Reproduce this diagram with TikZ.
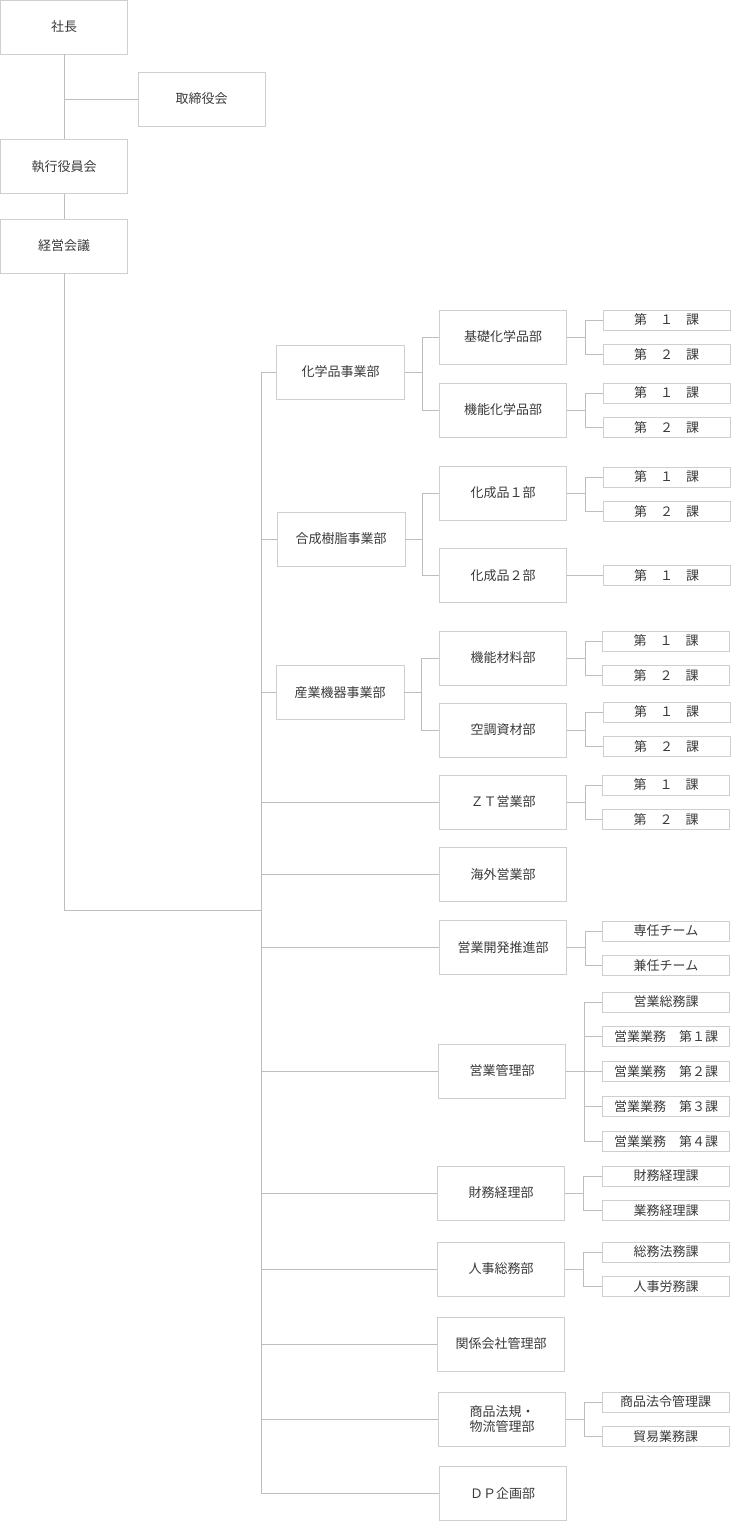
\documentclass[tikz,border=0pt]{standalone}
\usepackage{fontspec}
\setmainfont{Noto Sans CJK JP}
\usetikzlibrary{positioning}
\definecolor{boxgray}{HTML}{CFCFCF}
\definecolor{linegray}{HTML}{BDBDBD}
\definecolor{textgray}{HTML}{3A3A3A}
\begin{document}
\begin{tikzpicture}[x=1pt, y=-1pt, node distance=14pt,
  box/.style={draw=boxgray, line width=0.8pt, text=textgray, minimum width=127pt, minimum height=54pt, inner sep=0pt, align=center, font=\fontsize{13}{15}\selectfont},
  ka/.style={box, minimum height=20pt},
  conn/.style={draw=linegray, line width=0.8pt}]
\useasboundingbox (0,0) rectangle (731,1521);
\node(shacho) [box] at (64,27) {社長};
\node(tori) [box] at (201.5,99) {取締役会};
\node(shikko) [box] at (64,166.5) {執行役員会};
\node(keiei) [box] at (64,246) {経営会議};
\coordinate(sp) at (261,910);
\node(kagaku) [box, minimum width=128pt] at (340.5,372) {化学品事業部};
\node(gosei) [box, minimum width=128pt] at (341,539) {合成樹脂事業部};
\node(sangyo) [box, minimum width=128pt] at (340,692.5) {産業機器事業部};
\node(kiso) [box] at (503,337) {基礎化学品部};
\node(kinou) [box] at (503,410) {機能化学品部};
\node(kasei1) [box] at (503,493) {化成品１部};
\node(kasei2) [box] at (503,575.5) {化成品２部};
\node(zairyo) [box] at (503,658) {機能材料部};
\node(kucho) [box] at (503,730) {空調資材部};
\node(zt) [box] at (503,802) {ＺＴ営業部};
\node(kaigai) [box] at (503,874.5) {海外営業部};
\node(kaihatsu) [box] at (503,947.5) {営業開発推進部};
\node(kanri) [box] at (502,1071) {営業管理部};
\node(zaimu) [box] at (501,1193) {財務経理部};
\node(jinji) [box] at (501,1269) {人事総務部};
\node(kankei) [box] at (501,1344) {関係会社管理部};
\node(shohin) [box] at (502,1419) {商品法規・\\物流管理部};
\node(dp) [box] at (502.5,1493.5) {ＤＰ企画部};
\node(kiso1) [ka] at (666.5,320) {第　１　課};
\node(kiso2) [ka, below=of kiso1] {第　２　課};
\node(kinou1) [ka] at (666.5,393) {第　１　課};
\node(kinou2) [ka, below=of kinou1] {第　２　課};
\node(kaseiA) [ka] at (666.5,477) {第　１　課};
\node(kaseiB) [ka, below=of kaseiA] {第　２　課};
\node(kaseiC) [ka] at (666.5,575.5) {第　１　課};
\node(zairyo1) [ka] at (666,641) {第　１　課};
\node(zairyo2) [ka, below=of zairyo1] {第　２　課};
\node(kucho1) [ka] at (666.5,712) {第　１　課};
\node(kucho2) [ka, below=of kucho1] {第　２　課};
\node(zt1) [ka] at (666,785) {第　１　課};
\node(zt2) [ka, below=of zt1] {第　２　課};
\node(kaihatsu1) [ka] at (666,931) {専任チーム};
\node(kaihatsu2) [ka, below=of kaihatsu1] {兼任チーム};
\node(kanri1) [ka] at (666,1002) {営業総務課};
\node(kanri2) [ka, below=of kanri1] {営業業務　第１課};
\node(kanri3) [ka, below=of kanri2] {営業業務　第２課};
\node(kanri4) [ka, below=of kanri3] {営業業務　第３課};
\node(kanri5) [ka, below=of kanri4] {営業業務　第４課};
\node(zaimu1) [ka] at (666,1176) {財務経理課};
\node(zaimu2) [ka, below=of zaimu1] {業務経理課};
\node(jinji1) [ka] at (666,1252) {総務法務課};
\node(jinji2) [ka, below=of jinji1] {人事労務課};
\node(shohin1) [ka] at (665.5,1402) {商品法令管理課};
\node(shohin2) [ka, below=of shohin1] {貿易業務課};
\draw[conn](shacho) -- (shikko);
\draw[conn](shacho |- tori) -- (tori);
\draw[conn](shikko) -- (keiei);
\draw[conn](keiei) |- (sp);
\draw[conn](sp |- kagaku) -- (sp |- dp);
\draw[conn](sp |- kagaku) -- (kagaku);
\draw[conn](sp |- gosei) -- (gosei);
\draw[conn](sp |- sangyo) -- (sangyo);
\draw[conn](sp |- zt) -- (zt);
\draw[conn](sp |- kaigai) -- (kaigai);
\draw[conn](sp |- kaihatsu) -- (kaihatsu);
\draw[conn](sp |- kanri) -- (kanri);
\draw[conn](sp |- zaimu) -- (zaimu);
\draw[conn](sp |- jinji) -- (jinji);
\draw[conn](sp |- kankei) -- (kankei);
\draw[conn](sp |- shohin) -- (shohin);
\draw[conn](sp |- dp) -- (dp);
\draw[conn](kagaku.east) -- ++(17,0) |- (kiso) (kagaku.east) ++(17,0) |- (kinou);
\draw[conn](gosei.east) -- ++(17,0) |- (kasei1) (gosei.east) ++(17,0) |- (kasei2);
\draw[conn](sangyo.east) -- ++(17,0) |- (zairyo) (sangyo.east) ++(17,0) |- (kucho);
\draw[conn](kiso.east) -- ++(18,0) |- (kiso1) (kiso.east) ++(18,0) |- (kiso2);
\draw[conn](kinou.east) -- ++(18,0) |- (kinou1) (kinou.east) ++(18,0) |- (kinou2);
\draw[conn](kasei1.east) -- ++(18,0) |- (kaseiA) (kasei1.east) ++(18,0) |- (kaseiB);
\draw[conn](kasei2) -- (kaseiC);
\draw[conn](zairyo.east) -- ++(18,0) |- (zairyo1) (zairyo.east) ++(18,0) |- (zairyo2);
\draw[conn](kucho.east) -- ++(18,0) |- (kucho1) (kucho.east) ++(18,0) |- (kucho2);
\draw[conn](zt.east) -- ++(18,0) |- (zt1) (zt.east) ++(18,0) |- (zt2);
\draw[conn](kaihatsu.east) -- ++(18,0) |- (kaihatsu1) (kaihatsu.east) ++(18,0) |- (kaihatsu2);
\draw[conn](kanri.east) -- ++(18,0) |- (kanri1) (kanri.east) ++(18,0) |- (kanri2) (kanri.east) ++(18,0) |- (kanri3) (kanri.east) ++(18,0) |- (kanri4) (kanri.east) ++(18,0) |- (kanri5);
\draw[conn](zaimu.east) -- ++(18,0) |- (zaimu1) (zaimu.east) ++(18,0) |- (zaimu2);
\draw[conn](jinji.east) -- ++(18,0) |- (jinji1) (jinji.east) ++(18,0) |- (jinji2);
\draw[conn](shohin.east) -- ++(18,0) |- (shohin1) (shohin.east) ++(18,0) |- (shohin2);
\end{tikzpicture}
\end{document}
